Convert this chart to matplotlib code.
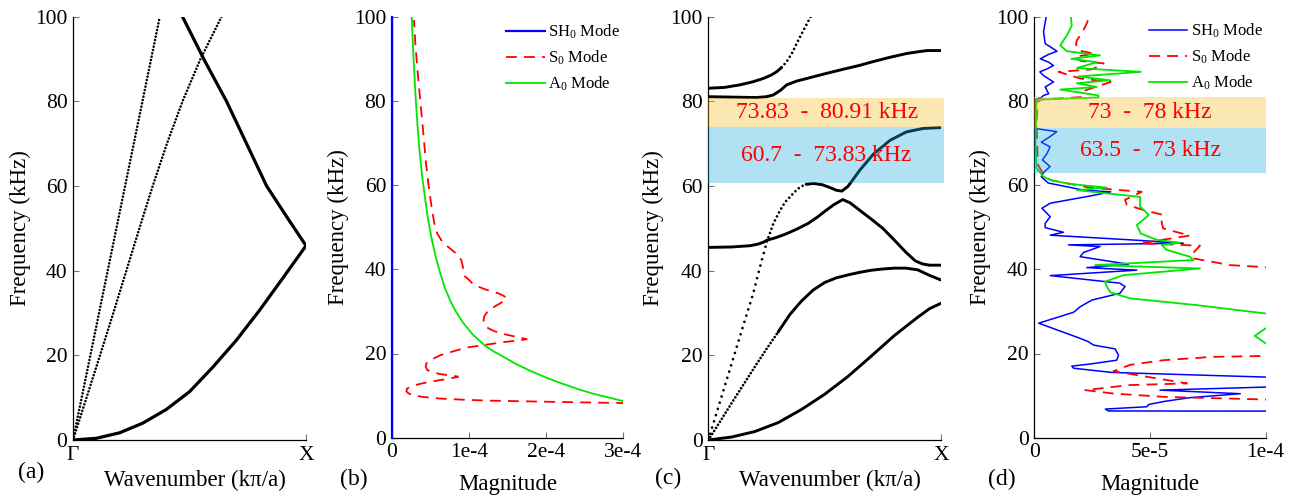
import numpy as np
import matplotlib
matplotlib.use("Agg")
import matplotlib.pyplot as plt
from matplotlib.patches import Rectangle

plt.rcParams['font.family'] = ['Liberation Serif', 'DejaVu Serif']
plt.rcParams['mathtext.fontset'] = 'custom'
plt.rcParams['mathtext.rm'] = 'Liberation Serif'
plt.rcParams['mathtext.it'] = 'Liberation Serif:italic'

# ---------------- data ----------------
# (a) homogeneous plate dispersion, k in (pi/a), f in kHz
a_sh0_k = [0.0, 0.3725]
a_sh0_f = [0.0, 100.0]
a_s0_k = [0.0, 0.058, 0.116, 0.173, 0.229, 0.285, 0.342, 0.403, 0.470, 0.547, 0.6375]
a_s0_f = [0.0, 10.0, 20.0, 30.0, 40.0, 50.0, 60.0, 70.0, 80.0, 90.0, 100.0]
a_a0_k = [0.0, 0.1, 0.2, 0.3, 0.4, 0.5, 0.6, 0.7, 0.8, 0.9, 1.0,
          0.92, 0.831, 0.745, 0.659, 0.566, 0.47]
a_a0_f = [0.0, 0.4, 1.7, 4.0, 7.2, 11.4, 17.2, 23.5, 30.6, 38.2, 45.9,
          52.5, 60.0, 70.0, 80.0, 89.5, 100.0]

# (b) response magnitude of plate (x in units of 1e-4)
b_sh0_f = [0.0, 100.0]
b_sh0_m = [0.0, 0.0]
b_s0_f = [8.2, 8.35, 8.5, 8.65, 8.8, 9.0, 9.3, 9.7, 10.1, 10.5, 11.0, 11.7, 12.3, 12.8,
          13.3, 13.9, 14.3, 14.5, 14.7, 15.1, 15.6, 16.1, 16.9, 17.7, 18.6, 19.6, 20.8,
          21.5, 22.0, 22.7, 23.2, 23.4, 23.7, 24.5, 25.3, 26.0, 27.0, 27.9, 28.9, 29.9,
          31.0, 32.2, 33.1, 33.6, 34.3, 35.3, 36.4, 37.5, 38.3, 39.4, 40.8, 42.2, 43.5,
          44.6, 45.8, 47.0, 48.5, 49.8, 51.7, 53.3, 55.0, 57.0, 59.6, 65.0, 72.3, 80.0,
          88.1, 94.0, 99.2]
b_s0_m = [3.05, 2.6, 2.13, 1.7, 1.27, 0.95, 0.626, 0.4, 0.28, 0.22, 0.19, 0.2, 0.27,
          0.37, 0.5, 0.7, 0.82, 0.86, 0.8, 0.63, 0.52, 0.46, 0.44, 0.45, 0.52, 0.63,
          0.85, 1.0, 1.19, 1.45, 1.68, 1.75, 1.68, 1.48, 1.33, 1.25, 1.2, 1.19, 1.2, 1.24,
          1.32, 1.43, 1.49, 1.46, 1.38, 1.2, 1.06, 1.0, 0.95, 0.93, 0.92, 0.9, 0.85,
          0.78, 0.7, 0.64, 0.59, 0.565, 0.545, 0.53, 0.515, 0.5, 0.48, 0.445, 0.41, 0.37,
          0.33, 0.305, 0.289]
b_a0_f = [8.7, 9.5, 10.5, 11.5, 12.9, 14.5, 16.1, 17.6, 19.2, 20.5, 22.0, 24.5, 27.2,
          30.0, 32.3, 35.5, 39.0, 43.0, 47.0, 52.0, 56.5, 62.0, 68.3, 74.0, 80.2, 90.0,
          100.0]
b_a0_m = [3.0, 2.82, 2.6, 2.42, 2.2, 1.97, 1.77, 1.6, 1.45, 1.32, 1.2, 1.05, 0.93, 0.83,
          0.765, 0.69, 0.63, 0.57, 0.52, 0.47, 0.435, 0.395, 0.36, 0.335, 0.312, 0.283,
          0.259]

# (c) phononic crystal band structure
c_b1_k = [0.0, 0.1, 0.2, 0.3, 0.4, 0.5, 0.6, 0.7, 0.8, 0.9, 0.95, 1.0]
c_b1_f = [0.0, 0.7, 2.0, 4.1, 7.2, 10.8, 15.0, 19.8, 24.7, 29.0, 31.0, 32.3]
c_b2_k = [0.0, 0.05, 0.1, 0.15, 0.2, 0.25, 0.3, 0.35, 0.4, 0.45, 0.5, 0.55, 0.6, 0.65,
          0.7, 0.75, 0.8, 0.85, 0.9, 0.95, 1.0]
c_b2_f = [0.0, 4.3, 8.7, 13.0, 17.3, 21.5, 25.5, 29.6, 32.8, 35.4, 37.2, 38.3, 39.0,
          39.6, 40.1, 40.4, 40.6, 40.6, 40.2, 38.9, 37.8]
c_b3_k = [0.0, 0.05, 0.1, 0.15, 0.193, 0.215, 0.232, 0.252, 0.28, 0.309, 0.33, 0.352,
          0.375, 0.395, 0.42, 0.452, 0.49, 0.52, 0.55, 0.574, 0.6, 0.652, 0.709, 0.781,
          0.852, 0.924, 1.0]
c_b3_f = [0.0, 9.0, 18.0, 27.0, 34.6, 39.4, 42.9, 46.9, 51.2, 54.3, 56.2, 57.5, 58.8,
          59.8, 60.4, 60.6, 60.3, 59.7, 59.0, 58.8, 59.9, 63.8, 67.5, 70.8, 72.8, 73.6,
          73.8]
c_b4_k = [0.0, 0.1, 0.18, 0.215, 0.24, 0.252, 0.29, 0.33, 0.38, 0.43, 0.47, 0.50, 0.54,
          0.578, 0.61, 0.65, 0.7, 0.75, 0.8, 0.85, 0.89, 0.92, 0.95, 1.0]
c_b4_f = [45.5, 45.6, 45.9, 46.3, 46.8, 47.2, 47.8, 48.6, 49.8, 51.2, 52.7, 54.0, 55.6,
          56.8, 56.0, 54.3, 52.2, 50.0, 47.2, 44.3, 42.3, 41.6, 41.3, 41.3]
c_b5_k = [0.0, 0.1, 0.208, 0.25, 0.279, 0.31, 0.337, 0.38, 0.423, 0.5, 0.566, 0.65,
          0.709, 0.78, 0.852, 0.9, 0.94, 1.0]
c_b5_f = [81.1, 81.0, 80.9, 81.1, 81.5, 82.6, 83.9, 84.8, 85.4, 86.5, 87.4, 88.5, 89.4,
          90.4, 91.3, 91.7, 92.0, 92.0]
c_b6_k = [0.0, 0.07, 0.136, 0.19, 0.236, 0.27, 0.294, 0.315, 0.337, 0.36, 0.38, 0.41,
          0.44]
c_b6_f = [83.1, 83.3, 83.9, 84.6, 85.4, 86.2, 87.0, 88.0, 89.4, 91.4, 93.7, 96.9, 100.0]

# band gaps (kHz)
c_gap_low = [60.7, 73.83]
c_gap_high = [73.83, 80.91]
c_gap_text = ["60.7  -  73.83 kHz", "73.83  -  80.91 kHz"]
d_gap_low = [62.9, 73.6]
d_gap_high = [73.6, 80.9]
d_gap_text = ["63.5  -  73 kHz", "73  -  78 kHz"]

# (d) response of phononic crystal plate (x in units of 1e-5)
d_sh0_f = [6.3, 6.35, 6.8, 7.35, 7.9, 8.6, 9.5, 10.45, 11.3, 12.5, 13.9, 15.5, 16.5,
           17.0, 17.5, 18.4, 19.6, 21.1, 22.0, 22.8, 23.6, 27.2, 29.8, 31.1, 32.7, 34.3,
           35.9, 36.7, 38.5, 39.8, 40.4, 41.2, 43.0, 44.0, 45.4, 45.8, 46.2, 47.0, 48.1,
           48.8, 49.9, 50.9, 52.5, 54.5, 55.7, 57.5, 58.4, 58.8, 60.5, 62.0, 63.0, 64.4,
           66.0, 67.5, 69.1, 70.2, 71.5, 72.7, 73.4, 75.0, 80.3, 80.8, 81.3, 81.7, 83.3,
           84.5, 86.0, 86.9, 87.6, 88.4, 89.2, 90.0, 91.0, 91.8, 92.6, 93.6, 96.4, 98.7,
           100.0]
d_sh0_m = [14.0, 3.2, 3.07, 4.86, 4.95, 5.6, 6.7, 8.9, 5.43, 13.0, 13.0, 3.35, 1.7,
           1.62, 2.41, 3.56, 3.64, 3.49, 2.56, 2.34, 1.98, 0.19, 1.7, 1.98, 2.49, 3.7,
           3.92, 3.7, 0.69, 4.43, 2.27, 4.07, 1.98, 2.13, 2.84, 1.48, 6.44, 4.14, 0.69,
           1.26, 0.47, 0.47, 0.69, 0.33, 0.69, 2.5, 3.3, 2.13, 0.6, 0.3, 0.4, 0.68,
           0.35, 0.55, 0.68, 0.3, 0.68, 0.97, 0.1, 0.03, 0.03, 0.3, 0.4, 0.62, 0.47,
           0.83, 0.4, 0.24, 0.55, 0.83, 0.62, 0.26, 0.6, 0.98, 0.76, 0.47, 0.4, 0.47,
           0.52]
d_s0_f = [8.5, 9.7, 10.5, 11.3, 12.5, 12.9, 15.8, 17.3, 18.4, 19.2, 19.8, 39.2, 41.0,
          42.6, 43.5, 45.6, 46.2, 48.0, 49.7, 51.3, 52.9, 54.1, 55.3, 56.5, 58.4, 59.4,
          61.2, 62.4, 65.0, 70.0, 75.0, 80.3, 80.9, 82.5, 84.5, 85.3, 86.9, 87.5, 88.9,
          89.5, 90.5, 91.2, 92.0, 93.5, 94.5, 96.5, 98.8, 99.5]
d_s0_m = [14.0, 5.6, 3.4, 2.2, 4.1, 6.6, 3.42, 4.14, 5.57, 7.7, 14.0, 14.0, 8.45, 6.87,
          6.8, 7.16, 4.57, 6.72, 5.57, 5.5, 5.57, 4.71, 4.0, 3.92, 4.64, 2.41, 0.69, 0.4,
          0.15, 0.12, 0.1, 0.15, 2.05, 2.2, 3.3, 2.0, 1.05, 2.5, 3.0, 2.0, 1.75, 2.6, 1.9,
          1.8, 1.85, 2.1, 2.3, 2.3]
d_a0_f = [21.8, 22.4, 24.2, 26.0, 26.6, 29.0, 29.5, 31.5, 33.1, 34.5, 35.9, 37.1, 38.6,
          40.2, 41.0, 42.2, 43.0, 44.6, 45.8, 46.3, 47.0, 48.5, 50.5, 52.9, 54.9, 57.2,
          58.8, 59.4, 60.3, 61.2, 62.0, 64.0, 70.0, 80.3, 80.8, 81.3, 82.7, 83.3, 84.2,
          84.9, 85.8, 86.9, 87.8, 89.2, 90.0, 90.8, 91.8, 93.2, 95.6, 97.9, 100.0]
d_a0_m = [14.0, 10.0, 9.53, 10.0, 14.0, 14.0, 10.0, 7.0, 4.14, 3.3, 3.13, 3.06, 3.85,
          7.16, 2.63, 6.87, 6.72, 5.72, 5.5, 6.3, 5.29, 4.6, 4.43, 4.95, 4.57, 4.57, 1.84,
          3.13, 1.5, 0.69, 0.4, 0.1, 0.05, 0.1, 2.77, 2.77, 1.12, 2.7, 1.84, 3.28, 1.9,
          4.6, 1.84, 2.7, 1.6, 2.84, 1.41, 1.12, 1.41, 1.62, 1.58]

yticks = [0, 20, 40, 60, 80, 100]
b_xticks = [0, 1e-4, 2e-4, 3e-4]
b_xticklabels = ['0', '1e-4', '2e-4', '3e-4']
d_xticks = [0, 5e-5, 1e-4]
d_xticklabels = ['0', '5e-5', '1e-4']
k_ticks = [0, 1]
k_ticklabels = ['\u0393', 'X']

# ---------------- style ----------------
W, H = 1293, 499
fig = plt.figure(figsize=(W / 100, H / 100), dpi=100)

def axes_px(l, r, t, b):
    return fig.add_axes([l / W, 1 - b / H, (r - l) / W, (b - t) / H])

ax_a = axes_px(73, 306, 16.7, 440)
ax_b = axes_px(391.7, 623.3, 16.7, 437.7)
ax_c = axes_px(708.3, 941, 16.7, 440)
ax_d = axes_px(1034.3, 1265.7, 16.7, 437.7)

TICK_FS = 15.5
LAB_FS = 16.5
BLUE, RED, GREEN = '#0000ff', '#ff0000', '#00e600'
BLACK = '#000000'

def style(ax, ylab_x, xlab_y, xlab_x):
    for s in ['top', 'right']:
        ax.spines[s].set_visible(False)
    for s in ['left', 'bottom']:
        ax.spines[s].set_linewidth(0.9)
    ax.tick_params(direction='in', length=4, width=0.8, color='#777777',
                   labelsize=TICK_FS, pad=4)
    ax.set_ylim(0, 100)
    ax.set_yticks(yticks)
    ax.set_ylabel('Frequency (kHz)', fontsize=LAB_FS, va='center')
    ax.yaxis.set_label_coords(ylab_x, 0.5)
    ax.xaxis.set_label_coords(xlab_x, xlab_y)

def dotted(ax, k, f, lw, period_px, **kw):
    g = period_px / (lw * 100 / 72.0)
    ax.plot(k, f, color=BLACK, lw=lw, linestyle=(0, (0.001, g)),
            dash_capstyle='round', **kw)

def solid(ax, k, f, lw=2.1):
    ax.plot(k, f, color=BLACK, lw=lw, solid_joinstyle='round', solid_capstyle='round')

# ---------------- (a) ----------------
dotted(ax_a, a_sh0_k, a_sh0_f, 1.9, 3.4)
dotted(ax_a, a_s0_k, a_s0_f, 1.9, 3.4)
solid(ax_a, a_a0_k, a_a0_f, 2.3)
ax_a.set_xlim(0, 1)
ax_a.set_xticks(k_ticks)
ax_a.set_xticklabels(k_ticklabels, fontsize=17)
ax_a.tick_params(axis='x', length=0)
ax_a.set_xlabel('Wavenumber (k\u03c0/a)', fontsize=LAB_FS, va='center')
style(ax_a, -53 / 233, -40 / 423, 0.524)

# ---------------- (b) ----------------
scale_b = 1e-4
ax_b.plot(np.array(b_sh0_m) * scale_b, b_sh0_f, color=BLUE, lw=1.6,
          label=r'SH$_\mathrm{0}$ Mode', clip_on=False, zorder=3)
ax_b.plot(np.array(b_s0_m) * scale_b, b_s0_f, color=RED, lw=1.3, ls=(0, (6, 4)),
          label=r'S$_\mathrm{0}$ Mode')
ax_b.plot(np.array(b_a0_m) * scale_b, b_a0_f, color=GREEN, lw=1.3,
          label=r'A$_\mathrm{0}$ Mode')
ax_b.set_xlim(0, 3e-4)
ax_b.set_xticks(b_xticks)
ax_b.set_xticklabels(b_xticklabels)
ax_b.set_xlabel('Magnitude', fontsize=LAB_FS, va='center')
style(ax_b, -53 / 232, -47 / 421, 0.5)
ax_b.legend(loc='upper left', bbox_to_anchor=(0.495, 0.986), frameon=False, fontsize=12,
            handlelength=2.3, handletextpad=0.2, labelspacing=0.45, borderpad=0,
            borderaxespad=0)

# ---------------- (c) ----------------
solid(ax_c, c_b1_k, c_b1_f)
dotted(ax_c, c_b2_k[:7], c_b2_f[:7], 2.0, 3.6)
solid(ax_c, c_b2_k[6:], c_b2_f[6:])
dotted(ax_c, c_b3_k[:8], c_b3_f[:8], 2.0, 6.5)
dotted(ax_c, c_b3_k[7:15], c_b3_f[7:15], 2.0, 4.5)
solid(ax_c, c_b3_k[14:], c_b3_f[14:])
solid(ax_c, c_b4_k, c_b4_f)
solid(ax_c, c_b5_k, c_b5_f)
solid(ax_c, c_b6_k[:8], c_b6_f[:8])
dotted(ax_c, c_b6_k[7:], c_b6_f[7:], 2.0, 4.5)
ax_c.set_xlim(0, 1)
ax_c.set_xticks(k_ticks)
ax_c.set_xticklabels(k_ticklabels, fontsize=17)
ax_c.tick_params(axis='x', length=0)
ax_c.set_xlabel('Wavenumber (k\u03c0/a)', fontsize=LAB_FS, va='center')
style(ax_c, -55 / 233, -40 / 423, 0.524)

BOX_BLUE = (29 / 255, 172 / 255, 226 / 255)
BOX_ORANGE = (246 / 255, 189 / 255, 35 / 255)
for lo_hi, col in ((c_gap_low, BOX_BLUE), (c_gap_high, BOX_ORANGE)):
    ax_c.add_patch(Rectangle((0, lo_hi[0]), 1.013, lo_hi[1] - lo_hi[0], facecolor=col,
                             edgecolor='none', alpha=0.35, zorder=3, clip_on=False))
ax_c.text(0.506, (c_gap_low[0] + c_gap_low[1]) / 2, c_gap_text[0], color=RED,
          fontsize=17, ha='center', va='center', zorder=4)
ax_c.text(0.51, (c_gap_high[0] + c_gap_high[1]) / 2, c_gap_text[1], color=RED,
          fontsize=17, ha='center', va='center', zorder=4)

# ---------------- (d) ----------------
scale_d = 1e-5
ax_d.plot(np.array(d_sh0_m) * scale_d, d_sh0_f, color=BLUE, lw=1.1,
          label=r'SH$_\mathrm{0}$ Mode')
ax_d.plot(np.array(d_s0_m) * scale_d, d_s0_f, color=RED, lw=1.3, ls=(0, (6, 4)),
          label=r'S$_\mathrm{0}$ Mode')
ax_d.plot(np.array(d_a0_m) * scale_d, d_a0_f, color=GREEN, lw=1.3,
          label=r'A$_\mathrm{0}$ Mode')
ax_d.set_xlim(0, 1e-4)
ax_d.set_xticks(d_xticks)
ax_d.set_xticklabels(d_xticklabels)
ax_d.set_xlabel('Magnitude', fontsize=LAB_FS, va='center')
style(ax_d, -54 / 232, -47 / 421, 0.5)
for lo_hi, col in ((d_gap_low, BOX_BLUE), (d_gap_high, BOX_ORANGE)):
    ax_d.add_patch(Rectangle((0, lo_hi[0]), 1e-4, lo_hi[1] - lo_hi[0], facecolor=col,
                             edgecolor='none', alpha=0.35, zorder=3))
ax_d.text(5e-5, (d_gap_low[0] + d_gap_low[1]) / 2, d_gap_text[0], color=RED,
          fontsize=17, ha='center', va='center', zorder=4)
ax_d.text(5e-5, (d_gap_high[0] + d_gap_high[1]) / 2, d_gap_text[1], color=RED,
          fontsize=17, ha='center', va='center', zorder=4)
ax_d.legend(loc='upper left', bbox_to_anchor=(0.495, 0.988), frameon=False, fontsize=12,
            handlelength=2.3, handletextpad=0.2, labelspacing=0.45, borderpad=0,
            borderaxespad=0)

# panel letters
for lab, x, y in (('(a)', 31, 472), ('(b)', 354, 479), ('(c)', 668, 478),
                  ('(d)', 1002, 479)):
    fig.text(x / W, 1 - y / H, lab, fontsize=17, ha='center', va='center')

fig.savefig('out.png', dpi=100)
